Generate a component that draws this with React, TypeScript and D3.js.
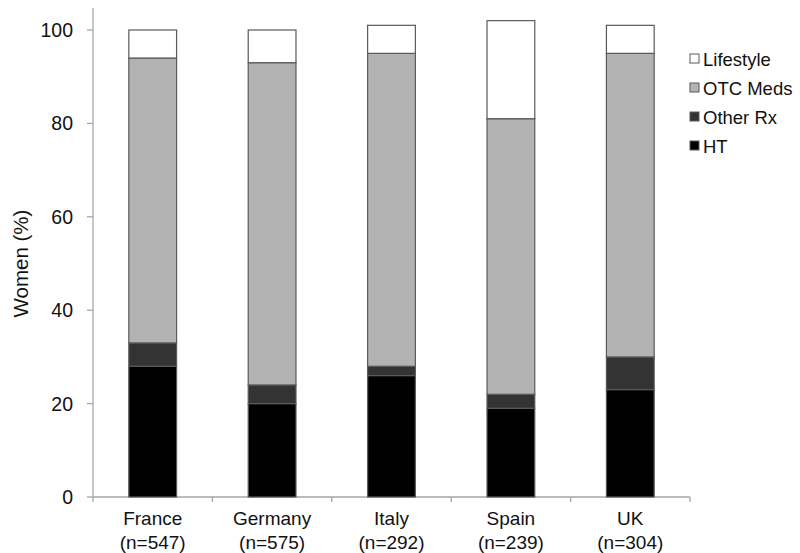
import React, { useEffect, useRef } from 'react';
import * as d3 from 'd3';

const countries = ['France', 'Germany', 'Italy', 'Spain', 'UK'];
const sampleSizes = ['(n=547)', '(n=575)', '(n=292)', '(n=239)', '(n=304)'];
const seriesNames = ['HT', 'Other Rx', 'OTC Meds', 'Lifestyle'];
const htValues = [28, 20, 26, 19, 23];
const otherRxValues = [5, 4, 2, 3, 7];
const otcValues = [61, 69, 67, 59, 65];
const lifestyleValues = [6, 7, 6, 21, 6];
const yTicks = [0, 20, 40, 60, 80, 100];
const colors = ['#000000', '#333333', '#b3b3b3', '#ffffff'];

const App = () => {
  const ref = useRef<SVGSVGElement>(null);

  useEffect(() => {
    const svg = d3.select(ref.current);
    svg.selectAll('*').remove();

    const margin = { top: 30, left: 93, right: 110, bottom: 56 };
    const width = 800, height = 553;
    const font = "Arial, 'Liberation Sans', sans-serif";

    const rows = countries.map((c, i) => ({
      country: c,
      'HT': htValues[i],
      'Other Rx': otherRxValues[i],
      'OTC Meds': otcValues[i],
      'Lifestyle': lifestyleValues[i],
    }));
    const stacked = d3.stack<any>().keys(seriesNames)(rows);

    const x = d3.scaleBand()
      .domain(countries)
      .range([margin.left, 690])
      .paddingInner(0.6)
      .paddingOuter(0.3);

    const y = d3.scaleLinear()
      .domain([0, 100])
      .range([497, 30]);

    const g = svg.append('g');

    // y axis
    g.append('line')
      .attr('x1', margin.left).attr('x2', margin.left)
      .attr('y1', y(0)).attr('y2', 8)
      .attr('stroke', '#a6a6a6').attr('stroke-width', 1.3);
    yTicks.forEach(t => {
      g.append('line')
        .attr('x1', margin.left - 6).attr('x2', margin.left)
        .attr('y1', y(t)).attr('y2', y(t))
        .attr('stroke', '#a6a6a6').attr('stroke-width', 1.3);
      g.append('text')
        .attr('x', margin.left - 20).attr('y', y(t))
        .attr('dy', '0.36em')
        .attr('text-anchor', 'end')
        .attr('font-family', font).attr('font-size', 19.5)
        .attr('fill', '#111')
        .text(t);
    });

    // x axis
    const step = x.step();
    const x0 = margin.left;
    g.append('line')
      .attr('x1', x0).attr('x2', x0 + step * countries.length)
      .attr('y1', y(0)).attr('y2', y(0))
      .attr('stroke', '#a6a6a6').attr('stroke-width', 1.3);
    d3.range(countries.length + 1).forEach(i => {
      g.append('line')
        .attr('x1', x0 + step * i).attr('x2', x0 + step * i)
        .attr('y1', y(0)).attr('y2', y(0) + 5)
        .attr('stroke', '#a6a6a6').attr('stroke-width', 1.3);
    });
    countries.forEach((c, i) => {
      const cx = (x(c) as number) + x.bandwidth() / 2;
      const t = g.append('text')
        .attr('text-anchor', 'middle')
        .attr('font-family', font).attr('font-size', 19)
        .attr('fill', '#111');
      t.append('tspan').attr('x', cx).attr('y', y(0) + 28).text(c);
      t.append('tspan').attr('x', cx).attr('y', y(0) + 52).text(sampleSizes[i]);
    });

    // bars
    stacked.forEach((layer, li) => {
      g.append('g')
        .selectAll('rect')
        .data(layer)
        .enter()
        .append('rect')
        .attr('x', (d: any) => x(d.data.country) as number)
        .attr('width', x.bandwidth())
        .attr('y', d => y(d[1]))
        .attr('height', d => y(d[0]) - y(d[1]))
        .attr('fill', colors[li])
        .attr('stroke', '#5a5a5a')
        .attr('stroke-width', 1.2);
    });

    // y title
    g.append('text')
      .attr('transform', `translate(21,${(y(0) + y(100)) / 2}) rotate(-90)`)
      .attr('text-anchor', 'middle')
      .attr('dy', '0.36em')
      .attr('font-family', font).attr('font-size', 20.5)
      .attr('fill', '#111')
      .text('Women (%)');

    // legend (top entry is last series)
    const legendOrder = [...seriesNames].reverse();
    legendOrder.forEach((name, i) => {
      const ly = 59 + i * 29;
      const ci = seriesNames.indexOf(name);
      g.append('rect')
        .attr('x', 690).attr('y', ly - 5)
        .attr('width', 9).attr('height', 9)
        .attr('fill', colors[ci])
        .attr('stroke', '#5a5a5a').attr('stroke-width', 1);
      g.append('text')
        .attr('x', 703).attr('y', ly)
        .attr('dy', '0.36em')
        .attr('font-family', font).attr('font-size', 18.5)
        .attr('fill', '#111')
        .text(name);
    });

    svg.attr('width', width).attr('height', height);
  });

  return (
    <svg ref={ref} width={800} height={553}
      style={{ position: 'absolute', left: 0, top: 0, background: '#fff' }} />
  );
};

export default App;
